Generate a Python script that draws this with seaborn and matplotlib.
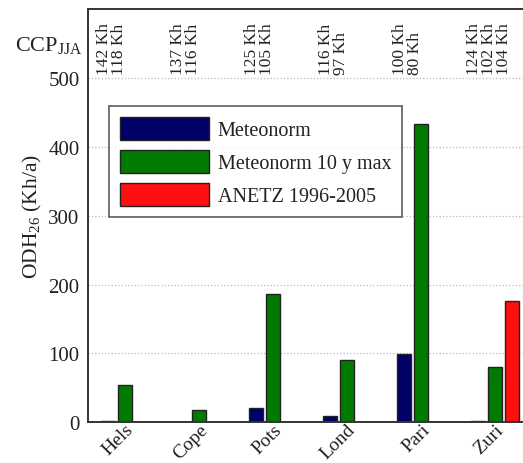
import pandas as pd
import numpy as np
import seaborn as sns
import matplotlib.pyplot as plt

# Data
cities = ["Hels", "Cope", "Pots", "Lond", "Pari", "Zuri"]
meteonorm = [1, 0, 20, 9, 99, 2]
meteonorm_10y_max = [54, 18, 186, 90, 433, 80]
anetz = [None, None, None, None, None, 176]
series_names = ["Meteonorm", "Meteonorm 10 y max", "ANETZ 1996-2005"]
ccp_labels = [
    ["142 Kh", "118 Kh"],
    ["137 Kh", "116 Kh"],
    ["125 Kh", "105 Kh"],
    ["116 Kh", "97 Kh"],
    ["100 Kh", "80 Kh"],
    ["124 Kh", "102 Kh", "104 Kh"],
]
y_ticks = [0, 100, 200, 300, 400, 500]

# Long-form table for seaborn
rows = []
for name, values in zip(series_names, [meteonorm, meteonorm_10y_max, anetz]):
    for city, v in zip(cities, values):
        if v is not None:
            rows.append({"city": city, "series": name, "value": v})
df = pd.DataFrame(rows)

sns.set_theme(style="white")
plt.rcParams["font.family"] = "serif"
plt.rcParams["font.serif"] = ["Liberation Serif", "DejaVu Serif"]
plt.rcParams["mathtext.fontset"] = "custom"
plt.rcParams["mathtext.rm"] = "Liberation Serif"
plt.rcParams["mathtext.it"] = "Liberation Serif:italic"

palette = {"Meteonorm": "#000066", "Meteonorm 10 y max": "#007a00", "ANETZ 1996-2005": "#ff1010"}

fig = plt.figure(figsize=(5.23, 4.64), dpi=100)
ax = fig.add_axes([0.168, 0.088, 0.849, 0.89])

sns.barplot(data=df, x="city", y="value", hue="series", order=cities,
            hue_order=series_names, palette=palette, errorbar=None,
            width=0.69, gap=0.18, edgecolor="#222222", linewidth=1.0,
            saturation=1, ax=ax)

ax.set_xlim(-0.5, 5.5)
ax.set_ylim(0, 600)
ax.set_yticks(y_ticks)
ax.tick_params(axis="y", direction="in", length=4, labelsize=15, colors="#333333",
               labelcolor="#222222", pad=6)
ax.tick_params(axis="x", length=0, labelsize=14, pad=-1, labelcolor="#222222")
for lab in ax.get_xticklabels():
    lab.set_rotation(45)
    lab.set_ha("right")
    lab.set_rotation_mode("anchor")

for t in y_ticks[1:]:
    ax.axhline(t, color="#bbbbbb", linestyle=":", linewidth=0.9, zorder=0)

for sp in ax.spines.values():
    sp.set_color("#333333")
    sp.set_linewidth(1.4)

ax.set_xlabel("")
ax.set_ylabel(r"ODH$_{26}$ (Kh/a)", fontsize=15.5, labelpad=3, color="#222222")

# CCP_JJA annotations above the 500 line
for i, labels in enumerate(ccp_labels):
    for j, lab in enumerate(labels):
        ax.text(i - 0.28 + j * 0.2, 506, lab, rotation=90, ha="center", va="bottom",
                fontsize=12.5, color="#222222")
fig.text(0.028, 0.902, r"CCP$_{\mathrm{JJA}}$", fontsize=16, ha="left", va="center",
         color="#222222")

handles, labels = ax.get_legend_handles_labels()
ax.legend(handles, labels, loc="upper left", bbox_to_anchor=(0.025, 0.79),
          fontsize=14.5, frameon=True, fancybox=False, edgecolor="#333333",
          handlelength=4.4, handleheight=1.35, borderpad=0.55, labelspacing=0.5,
          handletextpad=0.45, labelcolor="#222222")
ax.get_legend().get_frame().set_linewidth(1.2)

fig.savefig("out.png", dpi=100)
